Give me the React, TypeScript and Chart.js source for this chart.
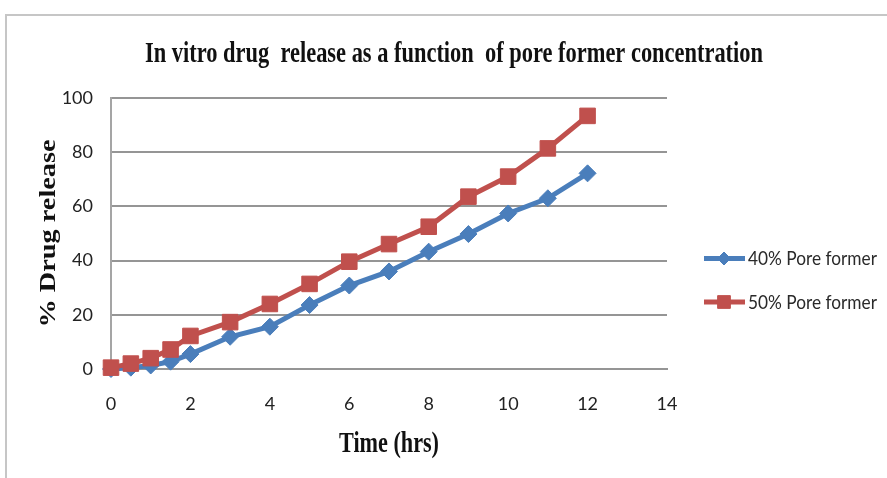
import { useEffect, useRef } from 'react';
import { Chart, registerables } from 'chart.js';
import { drawPoint } from 'chart.js/helpers';

Chart.register(...registerables);

// Sampling times (hours)
const timeHrs = [0, 0.5, 1, 1.5, 2, 3, 4, 5, 6, 7, 8, 9, 10, 11, 12];
// Cumulative % drug release for each pore former level
const release40 = [0, 0.5, 1.3, 2.7, 5.5, 11.9, 15.6, 23.6, 30.8, 36, 43.3, 49.8, 57.4, 63, 72.2];
const release50 = [0.5, 2, 4, 7.2, 12.2, 17.3, 24, 31.4, 39.6, 46.1, 52.5, 63.6, 71, 81.4, 93.4];

const seriesLabels = ['40% Pore former', '50% Pore former'];
const chartTitle = 'In vitro drug  release as a function  of pore former concentration';
const xTitle = 'Time (hrs)';
const yTitle = '% Drug release';

const xMax = 14;
const xStep = 2;
const yMax = 100;
const yStep = 20;

const BLUE = '#4a7ebb';
const RED = '#c0504d';
const GRID = '#959595';

// Draws text squeezed/stretched horizontally so it spans the given width.
function drawFitted(
  ctx: CanvasRenderingContext2D,
  text: string,
  x: number,
  y: number,
  font: string,
  width: number,
  align: 'center' | 'left',
  rotate = false
) {
  ctx.save();
  ctx.font = font;
  const w = ctx.measureText(text).width;
  ctx.translate(x, y);
  if (rotate) ctx.rotate(-Math.PI / 2);
  ctx.scale(width / w, 1);
  ctx.textAlign = align;
  ctx.textBaseline = 'alphabetic';
  ctx.fillText(text, 0, 0);
  ctx.restore();
}

const decorPlugin = {
  id: 'decor',
  afterDraw(chart: any) {
    const ctx: CanvasRenderingContext2D = chart.ctx;
    const area = chart.chartArea;
    ctx.save();
    ctx.fillStyle = '#111';
    drawFitted(ctx, chartTitle, 454, 61.5, 'bold 29px "Liberation Serif"', 618, 'center');
    drawFitted(ctx, xTitle, (area.left + area.right) / 2, 451.5, 'bold 30px "Liberation Serif"', 100, 'center');
    drawFitted(ctx, yTitle, 55, (area.top + area.bottom) / 2, 'bold 24px "Liberation Serif"', 188, 'center', true);

    // Legend: line sample with marker, then label
    const legendX = area.right + 37;
    const rows = [258.5, 302];
    chart.data.datasets.forEach((ds: any, i: number) => {
      const y = rows[i];
      ctx.strokeStyle = ds.borderColor;
      ctx.fillStyle = ds.backgroundColor;
      ctx.lineWidth = 5;
      ctx.beginPath();
      ctx.moveTo(legendX, y);
      ctx.lineTo(legendX + 41, y);
      ctx.stroke();
      ctx.lineWidth = 1;
      drawPoint(ctx, { pointStyle: ds.pointStyle, rotation: 0, radius: i === 0 ? 6.5 : 9, borderWidth: 1 }, legendX + 20, y);
      ctx.fillStyle = '#2a2a2a';
      drawFitted(ctx, ds.label, legendX + 44, y + 6.8, '19px Lato', 129, 'left');
    });
    ctx.restore();
  },
};

export default function App() {
  const canvasRef = useRef<HTMLCanvasElement | null>(null);

  useEffect(() => {
    document.body.style.margin = '0';
    const canvas = canvasRef.current;
    if (!canvas) return;
    const chart = new Chart(canvas, {
      type: 'line',
      data: {
        datasets: [
          {
            label: seriesLabels[0],
            data: timeHrs.map((t, i) => ({ x: t, y: release40[i] })),
            borderColor: BLUE,
            backgroundColor: BLUE,
            borderWidth: 5,
            pointStyle: 'rectRot',
            pointRadius: 8.5,
            pointBorderWidth: 1,
            tension: 0,
            clip: false,
            order: 1,
          },
          {
            label: seriesLabels[1],
            data: timeHrs.map((t, i) => ({ x: t, y: release50[i] })),
            borderColor: RED,
            backgroundColor: RED,
            borderWidth: 5,
            pointStyle: 'rect',
            pointRadius: 11,
            pointBorderWidth: 1,
            tension: 0,
            clip: false,
            order: 0,
          },
        ],
      },
      options: {
        animation: false,
        responsive: false,
        events: [],
        layout: { padding: { left: 0, top: 98, right: 220, bottom: 0 } },
        plugins: {
          legend: { display: false },
          title: { display: false },
          tooltip: { enabled: false },
        },
        scales: {
          x: {
            type: 'linear',
            min: 0,
            max: xMax,
            afterFit: (s: any) => {
              s.height = 109;
            },
            ticks: {
              stepSize: xStep,
              font: { family: 'Lato', size: 18 },
              color: '#222',
              padding: 24,
              maxRotation: 0,
            },
            grid: { display: false, drawTicks: false },
            border: { display: true, color: GRID, width: 2 },
          },
          y: {
            min: 0,
            max: yMax,
            afterFit: (s: any) => {
              s.width = 111;
            },
            ticks: {
              stepSize: yStep,
              font: { family: 'Lato', size: 18 },
              color: '#222',
              padding: 18,
            },
            grid: { color: GRID, lineWidth: 2, drawTicks: false },
            border: { display: true, color: '#a5a5a5', width: 2 },
          },
        },
      },
      plugins: [decorPlugin],
    });
    return () => chart.destroy();
  }, []);

  return (
    <div style={{ position: 'relative', width: 887, height: 478, overflow: 'hidden', background: '#fff' }}>
      <div
        style={{
          position: 'absolute',
          left: 5,
          top: 14,
          width: 950,
          height: 520,
          border: '2px solid #c6c6c6',
          boxSizing: 'border-box',
        }}
      />
      <canvas ref={canvasRef} width={887} height={478} style={{ position: 'absolute', left: 0, top: 0 }} />
    </div>
  );
}
